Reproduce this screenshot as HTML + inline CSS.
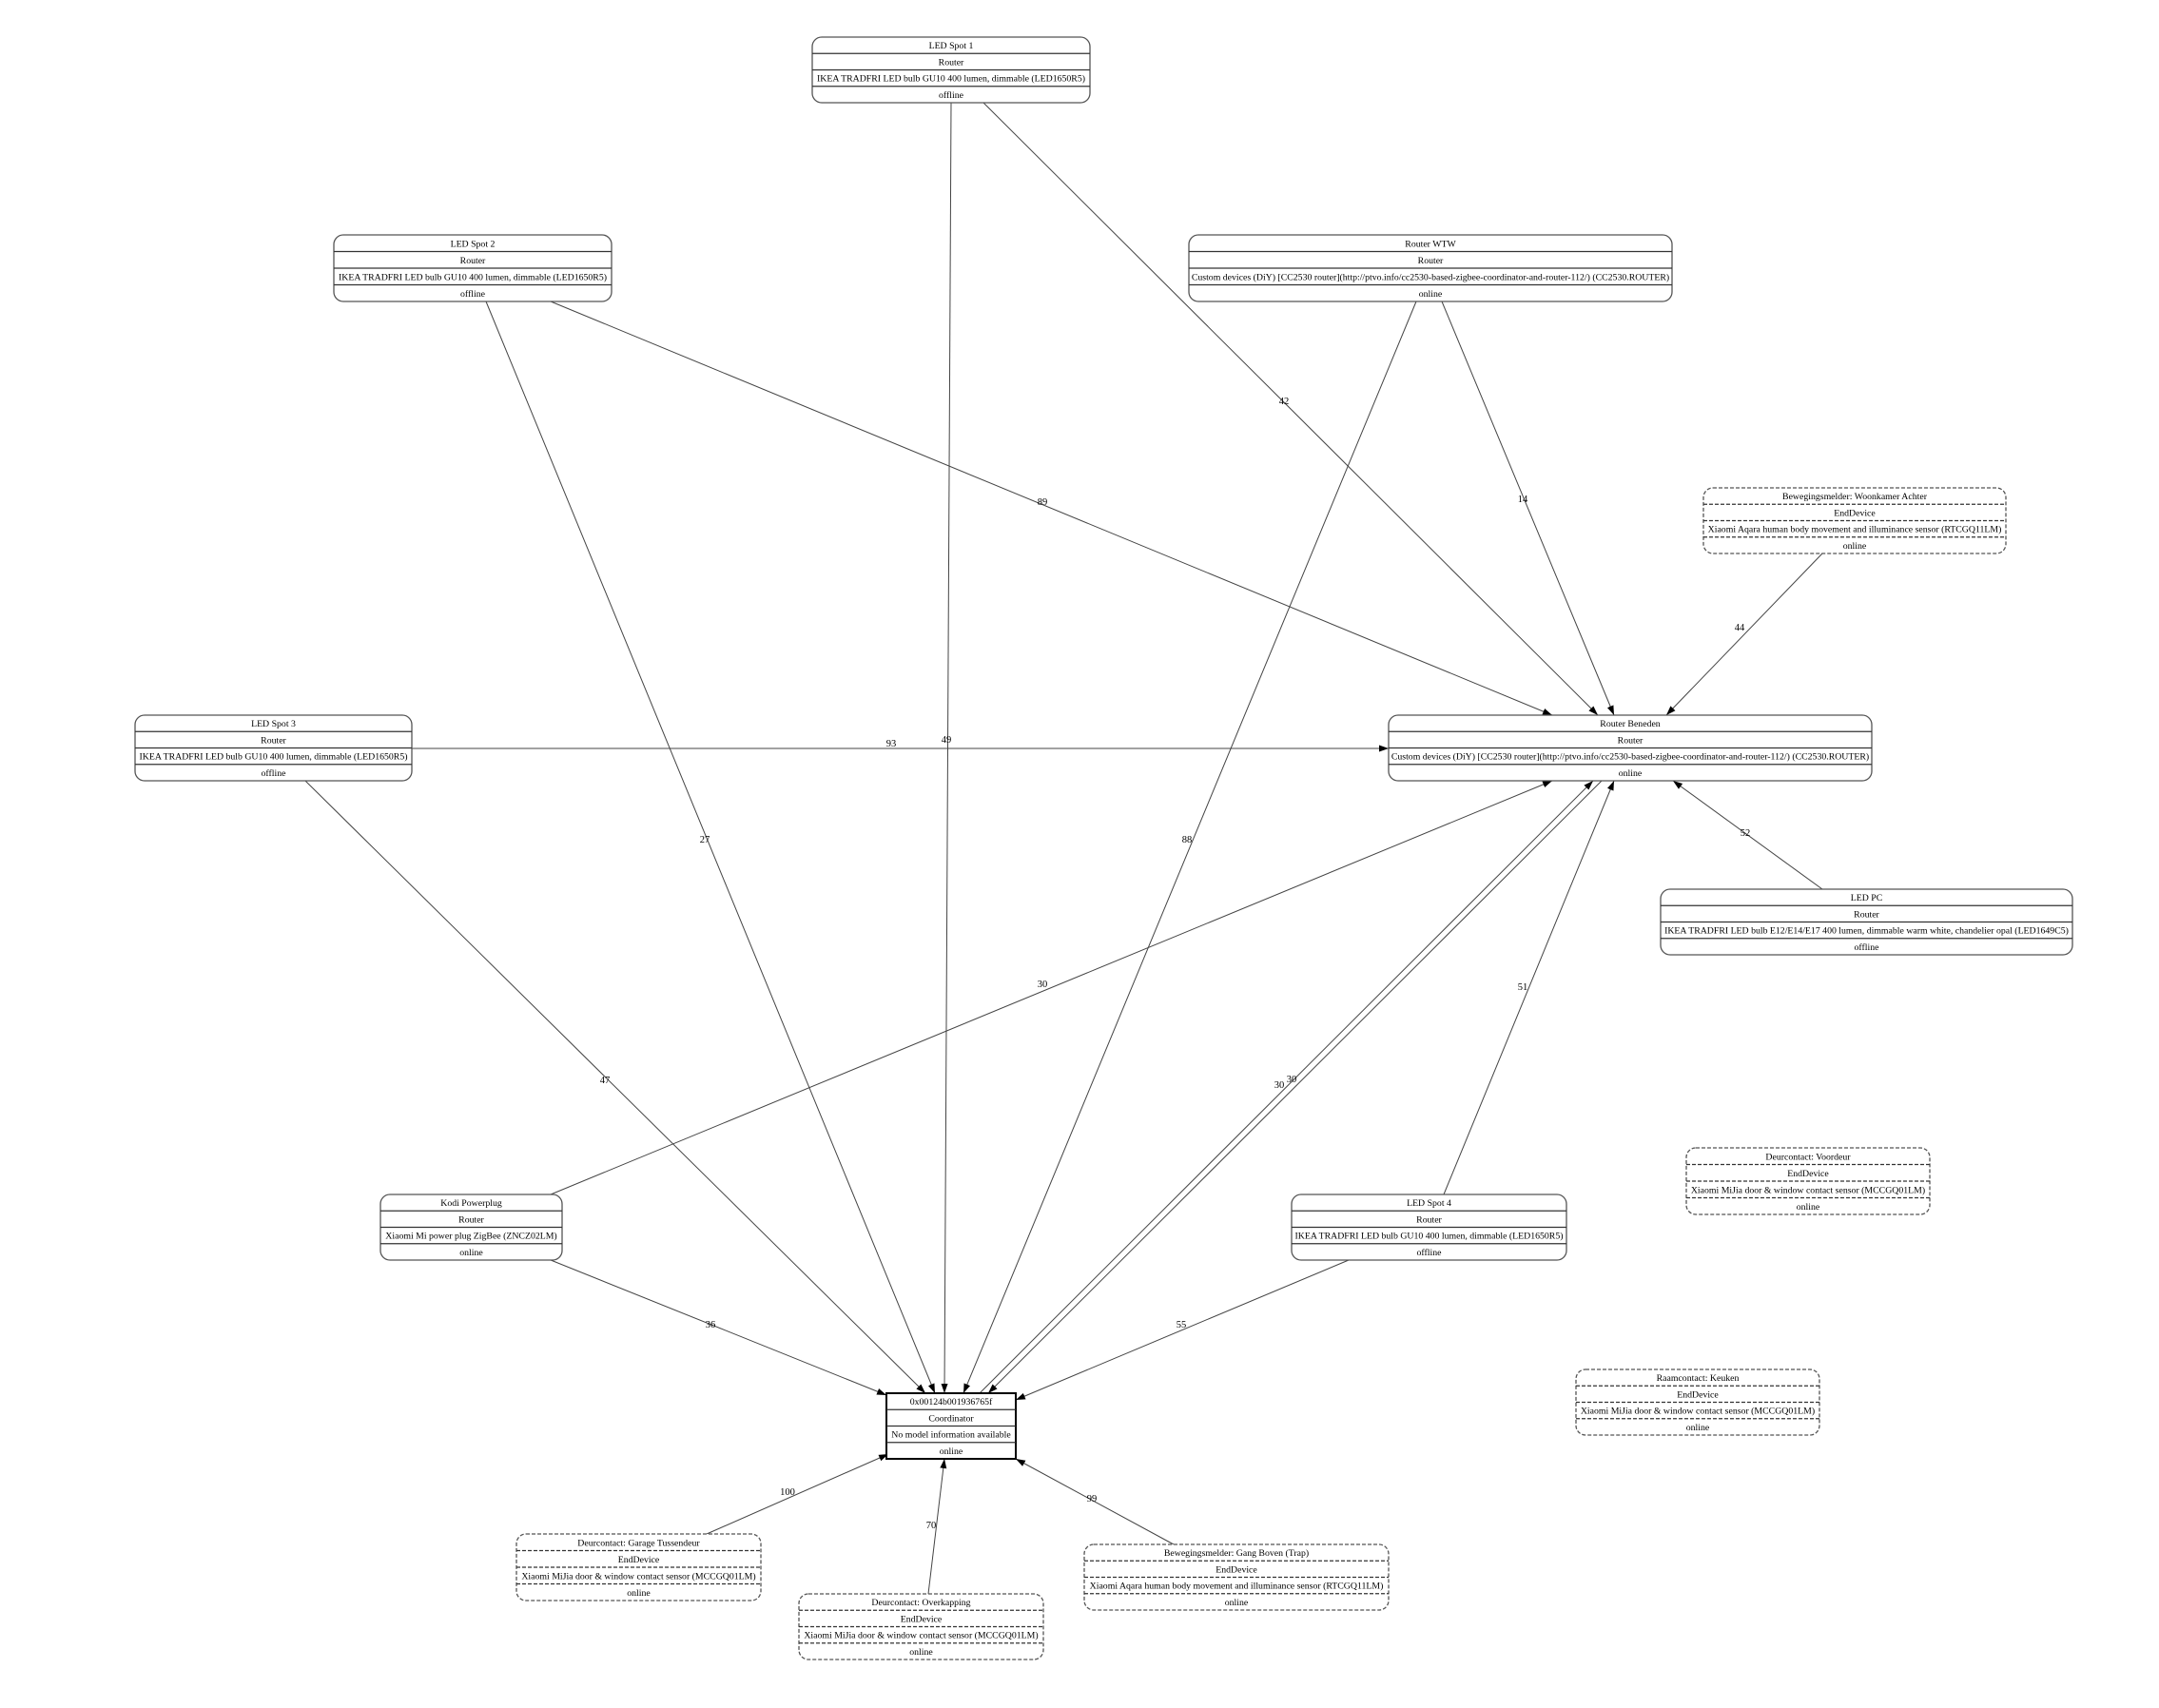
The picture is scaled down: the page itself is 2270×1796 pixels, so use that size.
<!DOCTYPE html>
<html><head><meta charset="utf-8"><style>
html,body{margin:0;padding:0;background:#fff;}
svg{display:block;}
text{font-family:"Liberation Serif",serif;font-size:9.8px;fill:#000;text-anchor:middle;}
.b{fill:#fff;stroke:#555;stroke-width:1.3;}
.d{fill:#fff;stroke:#555;stroke-width:1.3;stroke-dasharray:4,2;}
.l{stroke:#333;stroke-width:1.2;}
.ld{stroke:#333;stroke-width:1.2;stroke-dasharray:4,2;}
.e{stroke:#444;stroke-width:1;fill:none;marker-end:url(#a);}
.el{font-size:10.5px;}
</style></head><body>
<svg width="2270" height="1796" viewBox="0 0 2270 1796" xmlns="http://www.w3.org/2000/svg">
<defs><marker id="a" viewBox="0 0 10 10" refX="10" refY="5" markerWidth="10" markerHeight="10" markerUnits="userSpaceOnUse" orient="auto"><path d="M0,1.5 L10,5 L0,8.5 z" fill="#000"/></marker></defs>
<rect width="2270" height="1796" fill="#fff"/>
<g>
<line class="e" x1="1000" y1="108" x2="993" y2="1465"/><text class="el" x="995" y="781">49</text>
<line class="e" x1="1034" y1="108" x2="1680" y2="752"/><text class="el" x="1350" y="425">42</text>
<line class="e" x1="511" y1="317" x2="983" y2="1465"/><text class="el" x="741" y="886">27</text>
<line class="e" x1="579" y1="317" x2="1632" y2="752"/><text class="el" x="1096" y="531">89</text>
<line class="e" x1="1489" y1="317" x2="1013" y2="1465"/><text class="el" x="1248" y="886">88</text>
<line class="e" x1="1516" y1="317" x2="1697" y2="752"/><text class="el" x="1601" y="528">14</text>
<line class="e" x1="1916" y1="582" x2="1752" y2="752"/><text class="el" x="1829" y="663">44</text>
<line class="e" x1="433" y1="787" x2="1460" y2="787"/><text class="el" x="937" y="785">93</text>
<line class="e" x1="321" y1="821" x2="973" y2="1465"/><text class="el" x="636" y="1139">47</text>
<line class="e" x1="1030" y1="1465" x2="1675" y2="821"/><text class="el" x="1345" y="1144">30</text>
<line class="e" x1="1684" y1="821" x2="1039" y2="1465"/><text class="el" x="1358" y="1138">30</text>
<line class="e" x1="579" y1="1256" x2="1632" y2="821"/><text class="el" x="1096" y="1038">30</text>
<line class="e" x1="579" y1="1325" x2="932" y2="1467"/><text class="el" x="747" y="1396">36</text>
<line class="e" x1="1518" y1="1256" x2="1697" y2="821"/><text class="el" x="1601" y="1041">51</text>
<line class="e" x1="1418" y1="1325" x2="1068" y2="1472"/><text class="el" x="1242" y="1396">55</text>
<line class="e" x1="1916" y1="935" x2="1759" y2="821"/><text class="el" x="1835" y="879">52</text>
<line class="e" x1="743" y1="1613" x2="934" y2="1529"/><text class="el" x="828" y="1572">100</text>
<line class="e" x1="976" y1="1676" x2="993" y2="1534"/><text class="el" x="979" y="1607">70</text>
<line class="e" x1="1234" y1="1624" x2="1068" y2="1534"/><text class="el" x="1148" y="1579">99</text>
</g>
<rect class="b" x="854" y="39" width="292" height="69" rx="10"/>
<line class="l" x1="854" y1="56.25" x2="1146" y2="56.25"/><line class="l" x1="854" y1="73.5" x2="1146" y2="73.5"/><line class="l" x1="854" y1="90.75" x2="1146" y2="90.75"/>
<text x="1000" y="51.2">LED Spot 1</text><text x="1000" y="68.5">Router</text><text x="1000" y="85.7">IKEA TRADFRI LED bulb GU10 400 lumen, dimmable (LED1650R5)</text><text x="1000" y="103">offline</text>
<rect class="b" x="351" y="247" width="292" height="70" rx="10"/>
<line class="l" x1="351" y1="264.5" x2="643" y2="264.5"/><line class="l" x1="351" y1="282" x2="643" y2="282"/><line class="l" x1="351" y1="299.5" x2="643" y2="299.5"/>
<text x="497" y="259.3">LED Spot 2</text><text x="497" y="276.8">Router</text><text x="497" y="294.3">IKEA TRADFRI LED bulb GU10 400 lumen, dimmable (LED1650R5)</text><text x="497" y="311.8">offline</text>
<rect class="b" x="1250" y="247" width="508" height="70" rx="10"/>
<line class="l" x1="1250" y1="264.5" x2="1758" y2="264.5"/><line class="l" x1="1250" y1="282" x2="1758" y2="282"/><line class="l" x1="1250" y1="299.5" x2="1758" y2="299.5"/>
<text x="1504" y="259.3">Router WTW</text><text x="1504" y="276.8">Router</text><text x="1504" y="294.3">Custom devices (DiY) [CC2530 router](http://ptvo.info/cc2530-based-zigbee-coordinator-and-router-112/) (CC2530.ROUTER)</text><text x="1504" y="311.8">online</text>
<rect class="d" x="1791" y="513" width="318" height="69" rx="10"/>
<line class="ld" x1="1791" y1="530.25" x2="2109" y2="530.25"/><line class="ld" x1="1791" y1="547.5" x2="2109" y2="547.5"/><line class="ld" x1="1791" y1="564.75" x2="2109" y2="564.75"/>
<text x="1950" y="525.2">Bewegingsmelder: Woonkamer Achter</text><text x="1950" y="542.5">EndDevice</text><text x="1950" y="559.7">Xiaomi Aqara human body movement and illuminance sensor (RTCGQ11LM)</text><text x="1950" y="577">online</text>
<rect class="b" x="142" y="752" width="291" height="69" rx="10"/>
<line class="l" x1="142" y1="769.25" x2="433" y2="769.25"/><line class="l" x1="142" y1="786.5" x2="433" y2="786.5"/><line class="l" x1="142" y1="803.75" x2="433" y2="803.75"/>
<text x="287.5" y="764.2">LED Spot 3</text><text x="287.5" y="781.5">Router</text><text x="287.5" y="798.7">IKEA TRADFRI LED bulb GU10 400 lumen, dimmable (LED1650R5)</text><text x="287.5" y="816">offline</text>
<rect class="b" x="1460" y="752" width="508" height="69" rx="10"/>
<line class="l" x1="1460" y1="769.25" x2="1968" y2="769.25"/><line class="l" x1="1460" y1="786.5" x2="1968" y2="786.5"/><line class="l" x1="1460" y1="803.75" x2="1968" y2="803.75"/>
<text x="1714" y="764.2">Router Beneden</text><text x="1714" y="781.5">Router</text><text x="1714" y="798.7">Custom devices (DiY) [CC2530 router](http://ptvo.info/cc2530-based-zigbee-coordinator-and-router-112/) (CC2530.ROUTER)</text><text x="1714" y="816">online</text>
<rect class="b" x="1746" y="935" width="433" height="69" rx="10"/>
<line class="l" x1="1746" y1="952.25" x2="2179" y2="952.25"/><line class="l" x1="1746" y1="969.5" x2="2179" y2="969.5"/><line class="l" x1="1746" y1="986.75" x2="2179" y2="986.75"/>
<text x="1962.5" y="947.2">LED PC</text><text x="1962.5" y="964.5">Router</text><text x="1962.5" y="981.7">IKEA TRADFRI LED bulb E12/E14/E17 400 lumen, dimmable warm white, chandelier opal (LED1649C5)</text><text x="1962.5" y="999">offline</text>
<rect class="b" x="400" y="1256" width="191" height="69" rx="10"/>
<line class="l" x1="400" y1="1273.25" x2="591" y2="1273.25"/><line class="l" x1="400" y1="1290.5" x2="591" y2="1290.5"/><line class="l" x1="400" y1="1307.75" x2="591" y2="1307.75"/>
<text x="495.5" y="1268.2">Kodi Powerplug</text><text x="495.5" y="1285.5">Router</text><text x="495.5" y="1302.7">Xiaomi Mi power plug ZigBee (ZNCZ02LM)</text><text x="495.5" y="1320">online</text>
<rect class="b" x="1358" y="1256" width="289" height="69" rx="10"/>
<line class="l" x1="1358" y1="1273.25" x2="1647" y2="1273.25"/><line class="l" x1="1358" y1="1290.5" x2="1647" y2="1290.5"/><line class="l" x1="1358" y1="1307.75" x2="1647" y2="1307.75"/>
<text x="1502.5" y="1268.2">LED Spot 4</text><text x="1502.5" y="1285.5">Router</text><text x="1502.5" y="1302.7">IKEA TRADFRI LED bulb GU10 400 lumen, dimmable (LED1650R5)</text><text x="1502.5" y="1320">offline</text>
<rect class="d" x="1773" y="1207" width="256" height="70" rx="10"/>
<line class="ld" x1="1773" y1="1224.5" x2="2029" y2="1224.5"/><line class="ld" x1="1773" y1="1242" x2="2029" y2="1242"/><line class="ld" x1="1773" y1="1259.5" x2="2029" y2="1259.5"/>
<text x="1901" y="1219.3">Deurcontact: Voordeur</text><text x="1901" y="1236.8">EndDevice</text><text x="1901" y="1254.3">Xiaomi MiJia door &amp; window contact sensor (MCCGQ01LM)</text><text x="1901" y="1271.8">online</text>
<rect class="d" x="1657" y="1440" width="256" height="69" rx="10"/>
<line class="ld" x1="1657" y1="1457.25" x2="1913" y2="1457.25"/><line class="ld" x1="1657" y1="1474.5" x2="1913" y2="1474.5"/><line class="ld" x1="1657" y1="1491.75" x2="1913" y2="1491.75"/>
<text x="1785" y="1452.2">Raamcontact: Keuken</text><text x="1785" y="1469.5">EndDevice</text><text x="1785" y="1486.7">Xiaomi MiJia door &amp; window contact sensor (MCCGQ01LM)</text><text x="1785" y="1504">online</text>
<rect x="932" y="1465" width="136" height="69" fill="#fff" stroke="#000" stroke-width="2"/>
<line class="l" x1="932" y1="1482.25" x2="1068" y2="1482.25"/><line class="l" x1="932" y1="1499.5" x2="1068" y2="1499.5"/><line class="l" x1="932" y1="1516.75" x2="1068" y2="1516.75"/>
<text x="1000" y="1477.2">0x00124b001936765f</text><text x="1000" y="1494.5">Coordinator</text><text x="1000" y="1511.7">No model information available</text><text x="1000" y="1529">online</text>
<rect class="d" x="543" y="1613" width="257" height="70" rx="10"/>
<line class="ld" x1="543" y1="1630.5" x2="800" y2="1630.5"/><line class="ld" x1="543" y1="1648" x2="800" y2="1648"/><line class="ld" x1="543" y1="1665.5" x2="800" y2="1665.5"/>
<text x="671.5" y="1625.3">Deurcontact: Garage Tussendeur</text><text x="671.5" y="1642.8">EndDevice</text><text x="671.5" y="1660.3">Xiaomi MiJia door &amp; window contact sensor (MCCGQ01LM)</text><text x="671.5" y="1677.8">online</text>
<rect class="d" x="840" y="1676" width="257" height="69" rx="10"/>
<line class="ld" x1="840" y1="1693.25" x2="1097" y2="1693.25"/><line class="ld" x1="840" y1="1710.5" x2="1097" y2="1710.5"/><line class="ld" x1="840" y1="1727.75" x2="1097" y2="1727.75"/>
<text x="968.5" y="1688.2">Deurcontact: Overkapping</text><text x="968.5" y="1705.5">EndDevice</text><text x="968.5" y="1722.7">Xiaomi MiJia door &amp; window contact sensor (MCCGQ01LM)</text><text x="968.5" y="1740">online</text>
<rect class="d" x="1140" y="1624" width="320" height="69" rx="10"/>
<line class="ld" x1="1140" y1="1641.25" x2="1460" y2="1641.25"/><line class="ld" x1="1140" y1="1658.5" x2="1460" y2="1658.5"/><line class="ld" x1="1140" y1="1675.75" x2="1460" y2="1675.75"/>
<text x="1300" y="1636.2">Bewegingsmelder: Gang Boven (Trap)</text><text x="1300" y="1653.5">EndDevice</text><text x="1300" y="1670.7">Xiaomi Aqara human body movement and illuminance sensor (RTCGQ11LM)</text><text x="1300" y="1688">online</text>
</svg>
</body></html>
